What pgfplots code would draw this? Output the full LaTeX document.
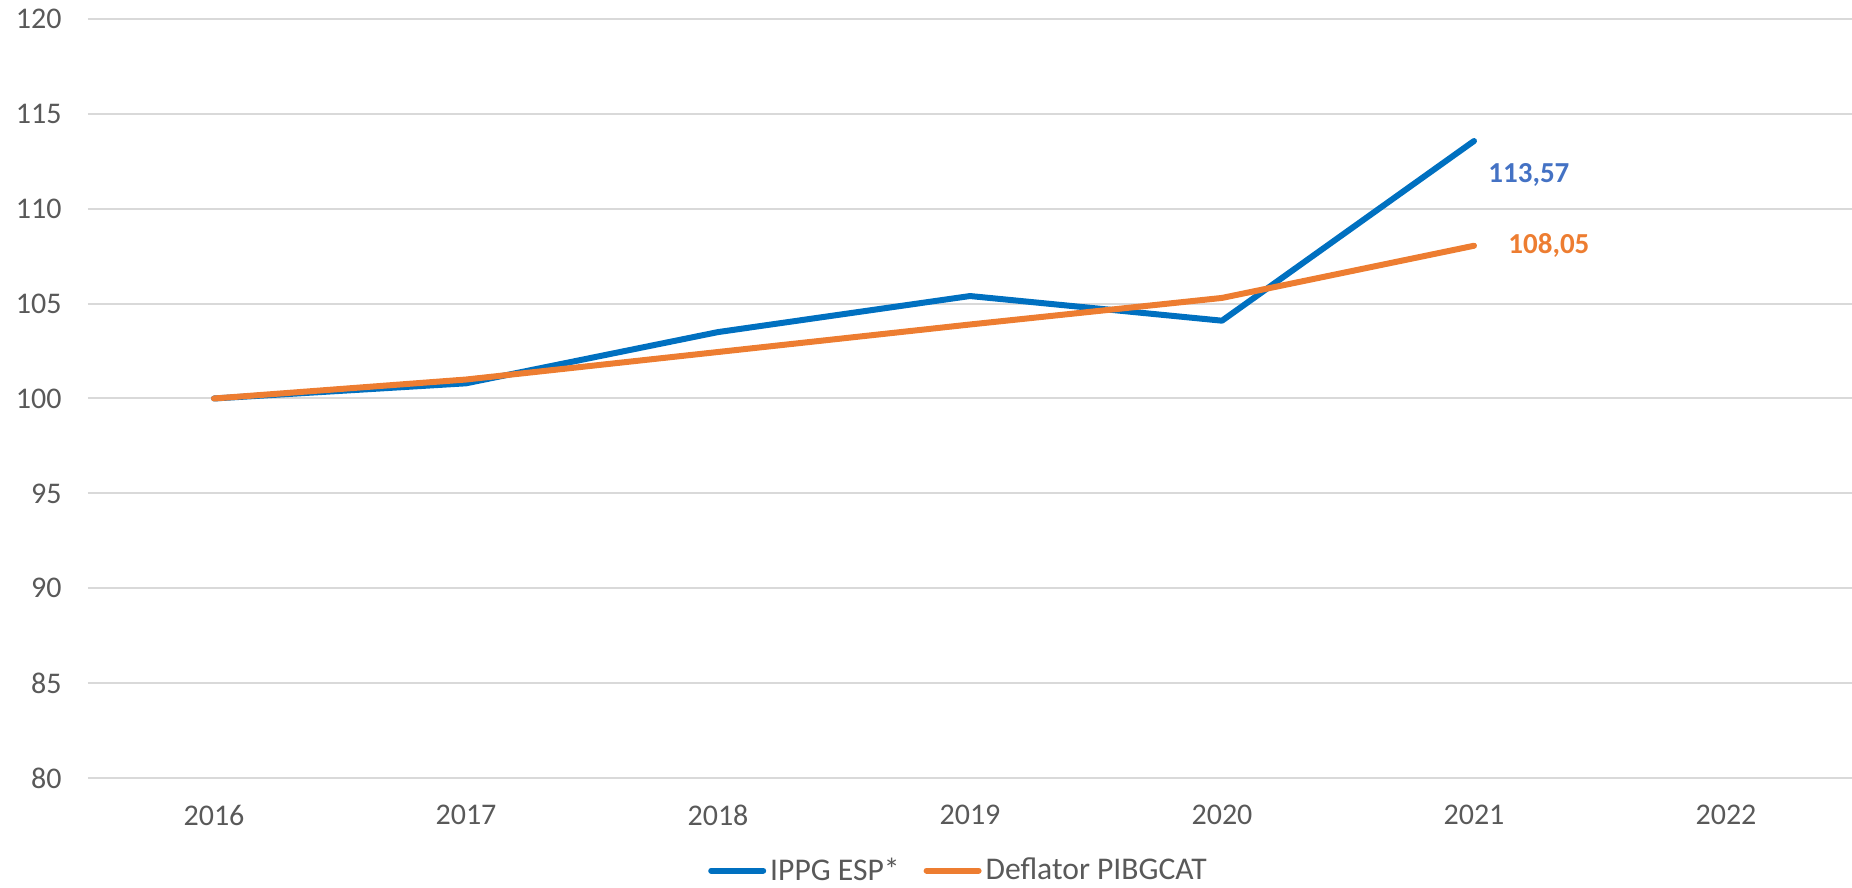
\documentclass[border=0pt]{standalone}
\usepackage{pgfplots}
\pgfplotsset{compat=1.18}
\usepackage{fontspec}
\setmainfont{Carlito}
\definecolor{ippg}{HTML}{0070C0}
\definecolor{defl}{HTML}{ED7D31}
\definecolor{lblblue}{HTML}{4472C4}
\definecolor{tickgray}{HTML}{595959}
\definecolor{gridgray}{HTML}{D9D9D9}

\begin{document}
\begin{tikzpicture}
\begin{axis}[
  scale only axis, width=882pt, height=379.5pt,
  xmin=-0.5, xmax=6.5, ymin=80, ymax=120,
  xtick={0,1,2,3,4,5,6},
  xticklabels={2016,2017,2018,2019,2020,2021,2022},
  ytick={80,85,90,95,100,105,110,115,120},
  /pgf/number format/assume math mode=true,
  axis line style={draw=none},
  major tick length=0pt,
  ymajorgrids, grid style={gridgray, line width=1pt},
  tick label style={font=\fontsize{15}{18}\selectfont, text=tickgray, inner sep=0pt},
  xticklabel style={anchor=north, yshift=-13.5pt},
  yticklabel style={anchor=east, xshift=-13pt},
  clip=false,
  legend columns=2,
  legend style={at={(0.494,-0.122)}, anchor=center, draw=none, fill=none,
                font=\fontsize{15.8}{18}\selectfont, text=tickgray,
                /tikz/every even column/.append style={column sep=10pt}},
  legend image code/.code={\draw[#1, line cap=round] (0pt,0pt) -- (26pt,0pt);},
  legend cell align=left,
]
\addplot[ippg, line width=3pt, line join=round, line cap=round, mark=none]
  coordinates {(0,100) (1,100.8) (2,103.5) (3,105.4) (4,104.1) (5,113.57)};
\addlegendentry{IPPG ESP*}
\addplot[defl, line width=3pt, line join=round, line cap=round, mark=none]
  coordinates {(0,100) (1,101.0) (2,102.45) (3,103.9) (4,105.3) (5,108.05)};
\addlegendentry{Deflator PIBGCAT}
\node[anchor=west, inner sep=0pt, text=lblblue, font=\fontsize{14.5}{17}\selectfont\bfseries]
  at ([xshift=7pt,yshift=-17pt]axis cs:5,113.57) {113,57};
\node[anchor=west, inner sep=0pt, text=defl, font=\fontsize{14.5}{17}\selectfont\bfseries]
  at ([xshift=17pt]axis cs:5,108.05) {108,05};
\end{axis}
\pgfresetboundingbox
\path[use as bounding box] (-44pt,-55pt) rectangle (882pt,389pt);
\end{tikzpicture}
\end{document}
